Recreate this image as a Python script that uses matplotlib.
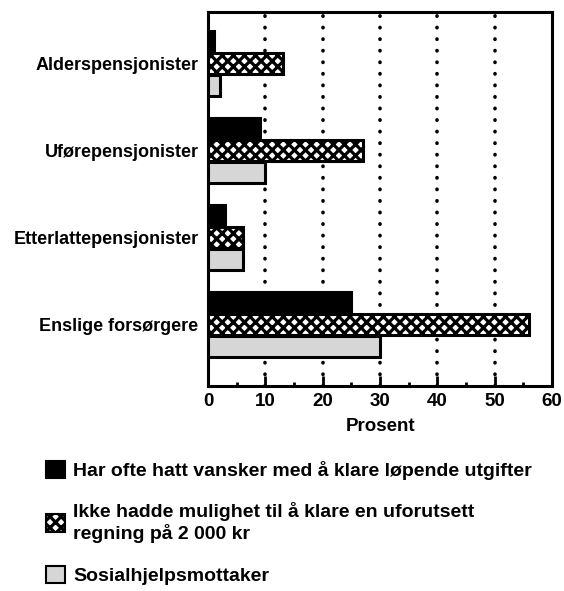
import matplotlib
matplotlib.use("Agg")
import matplotlib.pyplot as plt
from matplotlib.patches import Patch
import numpy as np

plt.rcParams['font.family'] = ['Liberation Sans', 'DejaVu Sans']
plt.rcParams['font.weight'] = 'bold'
plt.rcParams['hatch.linewidth'] = 2.3

categories = ["Alderspensjonister", "Uførepensjonister", "Etterlattepensjonister", "Enslige forsørgere"]
series_names = ["Har ofte hatt vansker med å klare løpende utgifter",
                "Ikke hadde mulighet til å klare en uforutsett\nregning på 2 000 kr",
                "Sosialhjelpsmottaker"]
vansker = [1, 9, 3, 25]
uforutsett = [13, 27, 6, 56]
sosialhjelp = [2, 10, 6, 30]
xticks = [0, 10, 20, 30, 40, 50, 60]

fig = plt.figure(figsize=(5.64, 5.91), dpi=100)
ax = fig.add_axes([0.369, 0.347, 0.610, 0.633])

y = np.arange(len(categories))
h = 0.24
styles = [dict(facecolor='black', hatch=None),
          dict(facecolor='white', hatch='xxx'),
          dict(facecolor='#d6d6d6', hatch=None)]
data = [vansker, uforutsett, sosialhjelp]
offsets = [-h * 1.05, 0, h * 1.05]
for vals, st, off in zip(data, styles, offsets):
    ax.barh(y + off, vals, height=h, facecolor=st['facecolor'], hatch=st['hatch'],
            edgecolor='black', linewidth=2.2, zorder=3)

ax.set_xlim(0, 60)
ax.set_ylim(3.70, -0.59)
ax.set_yticks(y)
ax.set_yticklabels(categories, fontsize=13, fontweight='bold')
ax.set_xticks(xticks)
ax.set_xticklabels([str(t) for t in xticks], fontsize=13.5, fontweight='bold')
ax.set_xticks(np.arange(5, 60, 10), minor=True)
ax.tick_params(axis='x', which='major', direction='in', length=7, width=2, pad=5)
ax.tick_params(axis='x', which='minor', direction='in', length=3, width=2)
ax.tick_params(axis='y', length=0, pad=7)
for s in ax.spines.values():
    s.set_linewidth(2.2)

for t in xticks[1:-1]:
    ax.axvline(t, color='black', linestyle=(0, (0.1, 3.1)), linewidth=2.6,
               dash_capstyle='round', zorder=1)

ax.set_xlabel("Prosent", fontsize=13.5, fontweight='bold', labelpad=6)

handles = [Patch(facecolor=st['facecolor'], hatch=st['hatch'],
                 edgecolor='black', linewidth=1.5)
           for st in styles]
fig.legend(handles, series_names, loc='upper left', bbox_to_anchor=(0.05, 0.25),
           frameon=False, handlelength=1.0, handleheight=1.0,
           labelspacing=1.15, handletextpad=0.4,
           prop={'weight': 'bold', 'size': 14})

fig.savefig("out.png", dpi=100)
